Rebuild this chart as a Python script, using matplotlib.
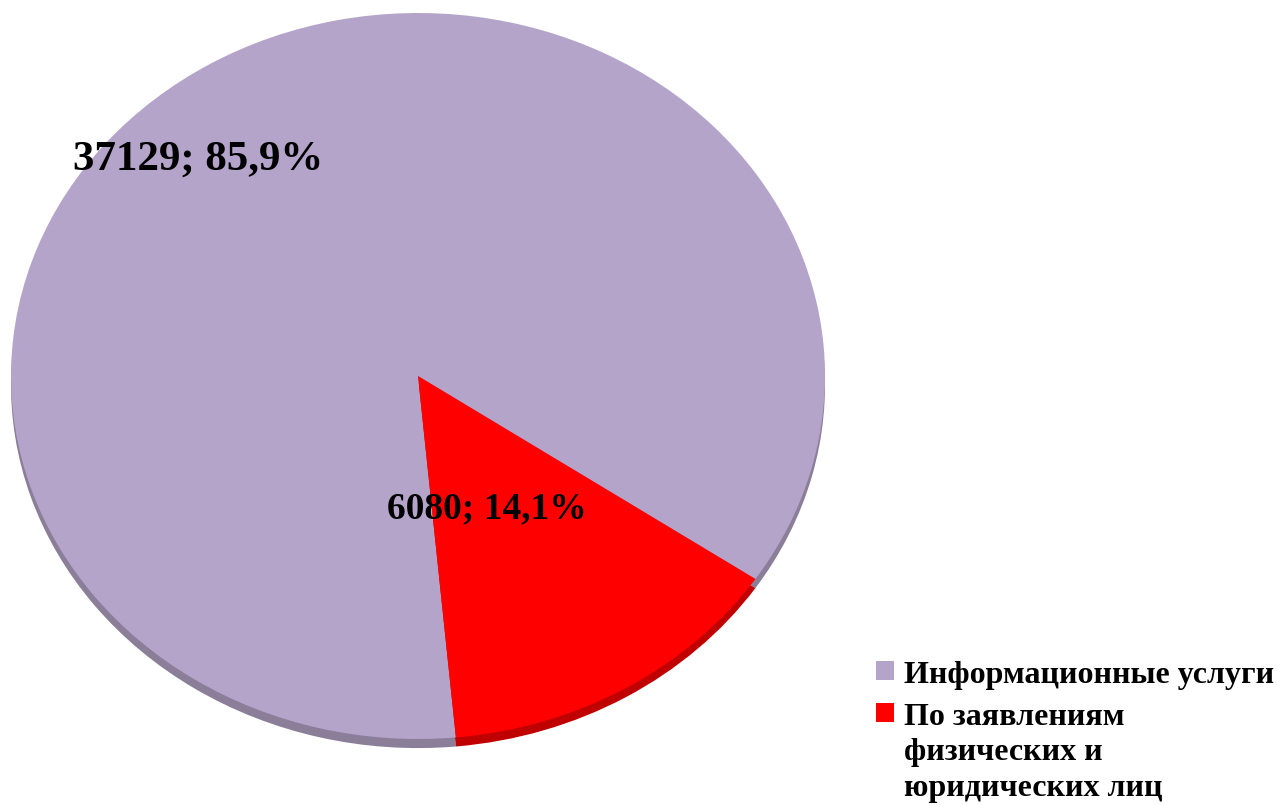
import matplotlib
matplotlib.use("Agg")
import matplotlib.pyplot as plt
from matplotlib.patches import Patch

categories = ["Информационные услуги", "По заявлениям\nфизических и\nюридических лиц"]
values = [37129, 6080]
percent_labels = ["85,9%", "14,1%"]
colors = ["#b5a4ca", "#ff0000"]
side_colors = ["#8a7e99", "#c00000"]

W, H = 1277, 805
fig = plt.figure(figsize=(W / 100, H / 100), dpi=100)
fig.patch.set_facecolor("white")

# pie area in pixels (left, top, right, bottom of top face)
px_l, px_t, px_r, px_b = 11, 13, 825, 739
ax = fig.add_axes([px_l / W, 1 - px_b / H, (px_r - px_l) / W, (px_b - px_t) / H])
ax.axis("off")

start = -34
side, _ = ax.pie(values, colors=side_colors, startangle=start, radius=1.0,
                 center=(0, -0.025), frame=False)
for w in side:
    w.set_clip_on(False)
    w.set_linewidth(0)
top, _ = ax.pie(values, colors=colors, startangle=start, radius=1.0,
                center=(0, 0), frame=False)
for w in top:
    w.set_clip_on(False)
    w.set_linewidth(0)
ax.set_aspect("auto")
ax.set_xlim(-1, 1)
ax.set_ylim(-1, 1)

font = dict(family="Liberation Serif", weight="bold", color="black")
lab1 = f"{values[0]}; {percent_labels[0]}"
lab2 = f"{values[1]}; {percent_labels[1]}"
fig.text(198 / W, 1 - 160 / H, lab1, ha="center", va="center", fontsize=31, **font)
fig.text(487 / W, 1 - 509 / H, lab2, ha="center", va="center", fontsize=27, **font)

handles = [Patch(facecolor=c, edgecolor="none") for c in colors]
leg = fig.legend(handles, categories, loc="upper left",
                 bbox_to_anchor=(876 / W, 1 - 661 / H),
                 frameon=False, handlelength=0.55, handleheight=0.55,
                 handletextpad=0.33, labelspacing=0.4, borderpad=0,
                 borderaxespad=0,
                 prop=dict(family="Liberation Serif", weight="bold", size=23))
for t in leg.get_texts():
    t.set_linespacing(1.3)
for col in leg._legend_handle_box.get_children():
    for row in col.get_children():
        row.align = "top"

fig.savefig("out.png", dpi=100, facecolor="white")
